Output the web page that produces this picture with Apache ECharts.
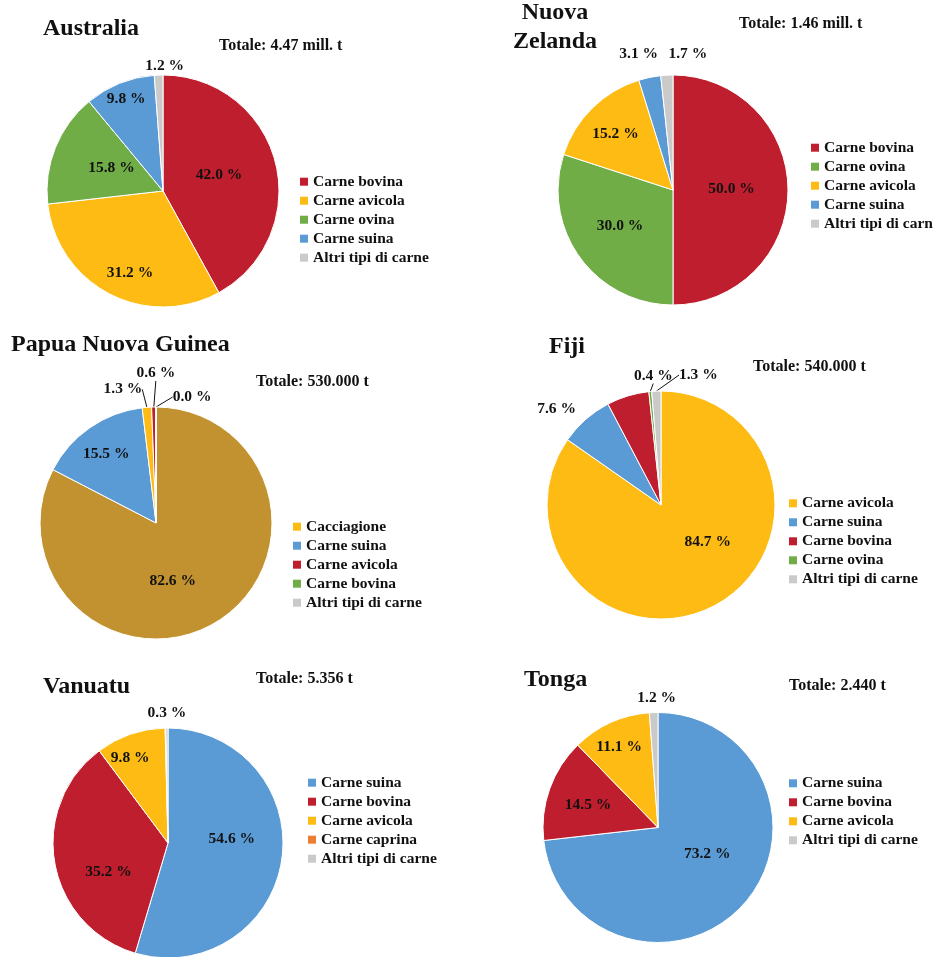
<!DOCTYPE html>
<html><head><meta charset="utf-8">
<script src="https://cdn.jsdelivr.net/npm/echarts@6/dist/echarts.min.js"></script>
<style>
html,body{margin:0;padding:0;background:#fff;width:933px;height:957px;overflow:hidden}
.c{position:absolute}
</style></head><body>
<div id="aus" class="c" style="left:0;top:0;width:466px;height:320px"></div>
<div id="nz" class="c" style="left:466px;top:0;width:467px;height:320px"></div>
<div id="png" class="c" style="left:0;top:320px;width:466px;height:330px"></div>
<div id="fiji" class="c" style="left:466px;top:320px;width:467px;height:330px"></div>
<div id="van" class="c" style="left:0;top:650px;width:466px;height:307px"></div>
<div id="tonga" class="c" style="left:466px;top:650px;width:467px;height:307px"></div>
<script>
// ---- DATA ----
const ausTitle = 'Australia';
const ausTotal = 'Totale: 4.47 mill. t';
const ausCategories = ['Carne bovina', 'Carne avicola', 'Carne ovina', 'Carne suina', 'Altri tipi di carne'];
const ausValues = [42.0, 31.2, 15.8, 9.8, 1.2];

const nzTitle = 'Nuova\nZelanda';
const nzTotal = 'Totale: 1.46 mill. t';
const nzCategories = ['Carne bovina', 'Carne ovina', 'Carne avicola', 'Carne suina', 'Altri tipi di carne'];
const nzValues = [50.0, 30.0, 15.2, 3.1, 1.7];

const pngTitle = 'Papua Nuova Guinea';
const pngTotal = 'Totale: 530.000 t';
const pngCategories = ['Altro', 'Carne suina', 'Cacciagione', 'Carne avicola', 'Carne bovina', 'Altri tipi di carne'];
const pngValues = [82.6, 15.5, 1.3, 0.6, 0.0, 0.0];
const pngLegend = ['Cacciagione', 'Carne suina', 'Carne avicola', 'Carne bovina', 'Altri tipi di carne'];

const fijiTitle = 'Fiji';
const fijiTotal = 'Totale: 540.000 t';
const fijiCategories = ['Carne avicola', 'Carne suina', 'Carne bovina', 'Carne ovina', 'Altri tipi di carne'];
const fijiValues = [84.7, 7.6, 6.0, 0.4, 1.3];

const vanTitle = 'Vanuatu';
const vanTotal = 'Totale: 5.356 t';
const vanCategories = ['Carne suina', 'Carne bovina', 'Carne avicola', 'Carne caprina', 'Altri tipi di carne'];
const vanValues = [54.6, 35.2, 9.8, 0.1, 0.3];

const tongaTitle = 'Tonga';
const tongaTotal = 'Totale: 2.440 t';
const tongaCategories = ['Carne suina', 'Carne bovina', 'Carne avicola', 'Altri tipi di carne'];
const tongaValues = [73.2, 14.5, 11.1, 1.2];

// ---- STYLE ----
const FONT = '"Liberation Serif", "Times New Roman", "DejaVu Serif", serif';
const RED = '#BE1E2D', YEL = '#FDBB14', GRN = '#70AD47', BLU = '#5B9BD5', GRY = '#CACACA', BRN = '#C1922F', ORG = '#ED7D31';

const charts = [
  { id: 'aus', title: ausTitle, total: ausTotal, cats: ausCategories, vals: ausValues, legend: ausCategories,
    colors: [RED, YEL, GRN, BLU, GRY], center: [163, 191], radius: 116,
    titleXY: [43, 29], titleAlign: 'left', totalXY: [219, 45.5], legendXY: [300, 181.7],
    labels: [['in', -3, -1], ['in', -5, 28], ['in', 5, 0], ['in', -14, -35], ['out', 6, -9]] },
  { id: 'nz', title: nzTitle, total: nzTotal, cats: nzCategories, vals: nzValues, legend: nzCategories,
    colors: [RED, GRN, YEL, BLU, GRY], center: [207, 190], radius: 115,
    titleXY: [89, 27.5], titleAlign: 'center', totalXY: [273, 24.3], legendXY: [345, 147.7],
    labels: [['in', -2, -1], ['in', -4, 0], ['in', -15, -13], ['out', -11, -23], ['out', 21, -21]] },
  { id: 'png', title: pngTitle, total: pngTotal, cats: pngCategories, vals: pngValues, legend: pngLegend,
    colors: [BRN, BLU, YEL, RED, GRN, GRY], center: [156, 203], radius: 116,
    titleXY: [11, 25], titleAlign: 'left', totalXY: [256, 62.3], legendXY: [293, 206.7],
    labels: [['in', -15, 6], ['in', -15, -19], ['line', -24, -18], ['line', 2, -34], ['line', 36, -10], ['none']] },
  { id: 'fiji', title: fijiTitle, total: fijiTotal, cats: fijiCategories, vals: fijiValues, legend: fijiCategories,
    colors: [YEL, BLU, RED, GRN, GRY], center: [195, 185], radius: 114,
    titleXY: [83, 26.3], titleAlign: 'left', totalXY: [287, 46.7], legendXY: [323, 183.3],
    labels: [['in', 19, -16], ['out', -29, -10], ['none'], ['line', 3, -16], ['line', 42, -16]] },
  { id: 'van', title: vanTitle, total: vanTotal, cats: vanCategories, vals: vanValues, legend: vanCategories,
    colors: [BLU, RED, YEL, ORG, GRY], center: [168, 193], radius: 115,
    titleXY: [43, 37], titleAlign: 'left', totalXY: [256, 29.3], legendXY: [308, 132.7],
    labels: [['in', 4, -13], ['in', 0, 18], ['in', -18, -28], ['none'], ['out', 0, -15]] },
  { id: 'tonga', title: tongaTitle, total: tongaTotal, cats: tongaCategories, vals: tongaValues, legend: tongaCategories,
    colors: [BLU, RED, YEL, GRY], center: [192, 177.5], radius: 115,
    titleXY: [58, 29.5], titleAlign: 'left', totalXY: [323, 36], legendXY: [323, 133.3],
    labels: [['in', 4, -14], ['in', -13, -2], ['in', -14, -25], ['out', 3, -15]] }
];

charts.forEach(function (c) {
  const chart = echarts.init(document.getElementById(c.id), null, { renderer: 'canvas' });
  const data = c.cats.map(function (name, i) {
    const spec = c.labels[i];
    const item = { name: name, value: c.vals[i], itemStyle: { color: c.colors[i] } };
    if (spec[0] === 'none') { item.label = { show: false }; item.labelLine = { show: false }; }
    else if (spec[0] === 'in') { item.label = { show: true, position: 'inside' }; item.labelLine = { show: false }; }
    else { item.label = { show: true, position: 'outside' }; item.labelLine = { show: spec[0] === 'line', length: 0, length2: 0 }; }
    return item;
  });
  chart.setOption({
    animation: false,
    graphic: [
      { type: 'text', x: c.titleXY[0], y: c.titleXY[1], silent: true,
        style: { text: c.title, font: 'bold 24px ' + FONT, fill: '#111', align: c.titleAlign, verticalAlign: 'middle', lineHeight: 29 } },
      { type: 'text', x: c.totalXY[0], y: c.totalXY[1], silent: true,
        style: { text: c.total, font: 'bold 16px ' + FONT, fill: '#111', align: 'left', verticalAlign: 'middle' } }
    ],
    legend: {
      orient: 'vertical', left: c.legendXY[0], top: c.legendXY[1] - 9.5, padding: 0,
      itemGap: 0, itemWidth: 8, itemHeight: 8, itemTextGap: 10, icon: 'rect',
      selectedMode: false, data: c.legend,
      itemStyle: { borderWidth: 0 },
      textStyle: { fontFamily: FONT, fontWeight: 'bold', fontSize: 15.5, color: '#111', lineHeight: 19 }
    },
    series: [{
      type: 'pie',
      center: c.center,
      radius: c.radius,
      startAngle: 90,
      clockwise: true,
      avoidLabelOverlap: false,
      silent: true,
      emphasis: { disabled: true },
      itemStyle: { borderColor: '#fff', borderWidth: 1 },
      label: {
        show: true, fontFamily: FONT, fontWeight: 'bold', fontSize: 15.5, color: '#111',
        distanceToLabelLine: 0,
        formatter: function (p) { return p.value.toFixed(1) + ' %'; }
      },
      labelLine: { length: 0, length2: 0, lineStyle: { color: '#111', width: 1 } },
      labelLayout: function (p) {
        const spec = c.labels[p.dataIndex];
        if (!spec || spec[0] === 'none') return {};
        const r = p.labelRect;
        const ax = p.align === 'right' ? r.x + r.width : (p.align === 'left' ? r.x : r.x + r.width / 2);
        const ay = p.verticalAlign === 'bottom' ? r.y + r.height : (p.verticalAlign === 'top' ? r.y : r.y + r.height / 2);
        return { x: ax + spec[1], y: ay + spec[2], align: 'center', verticalAlign: 'middle' };
      },
      data: data
    }]
  });
});
</script>
</body></html>
